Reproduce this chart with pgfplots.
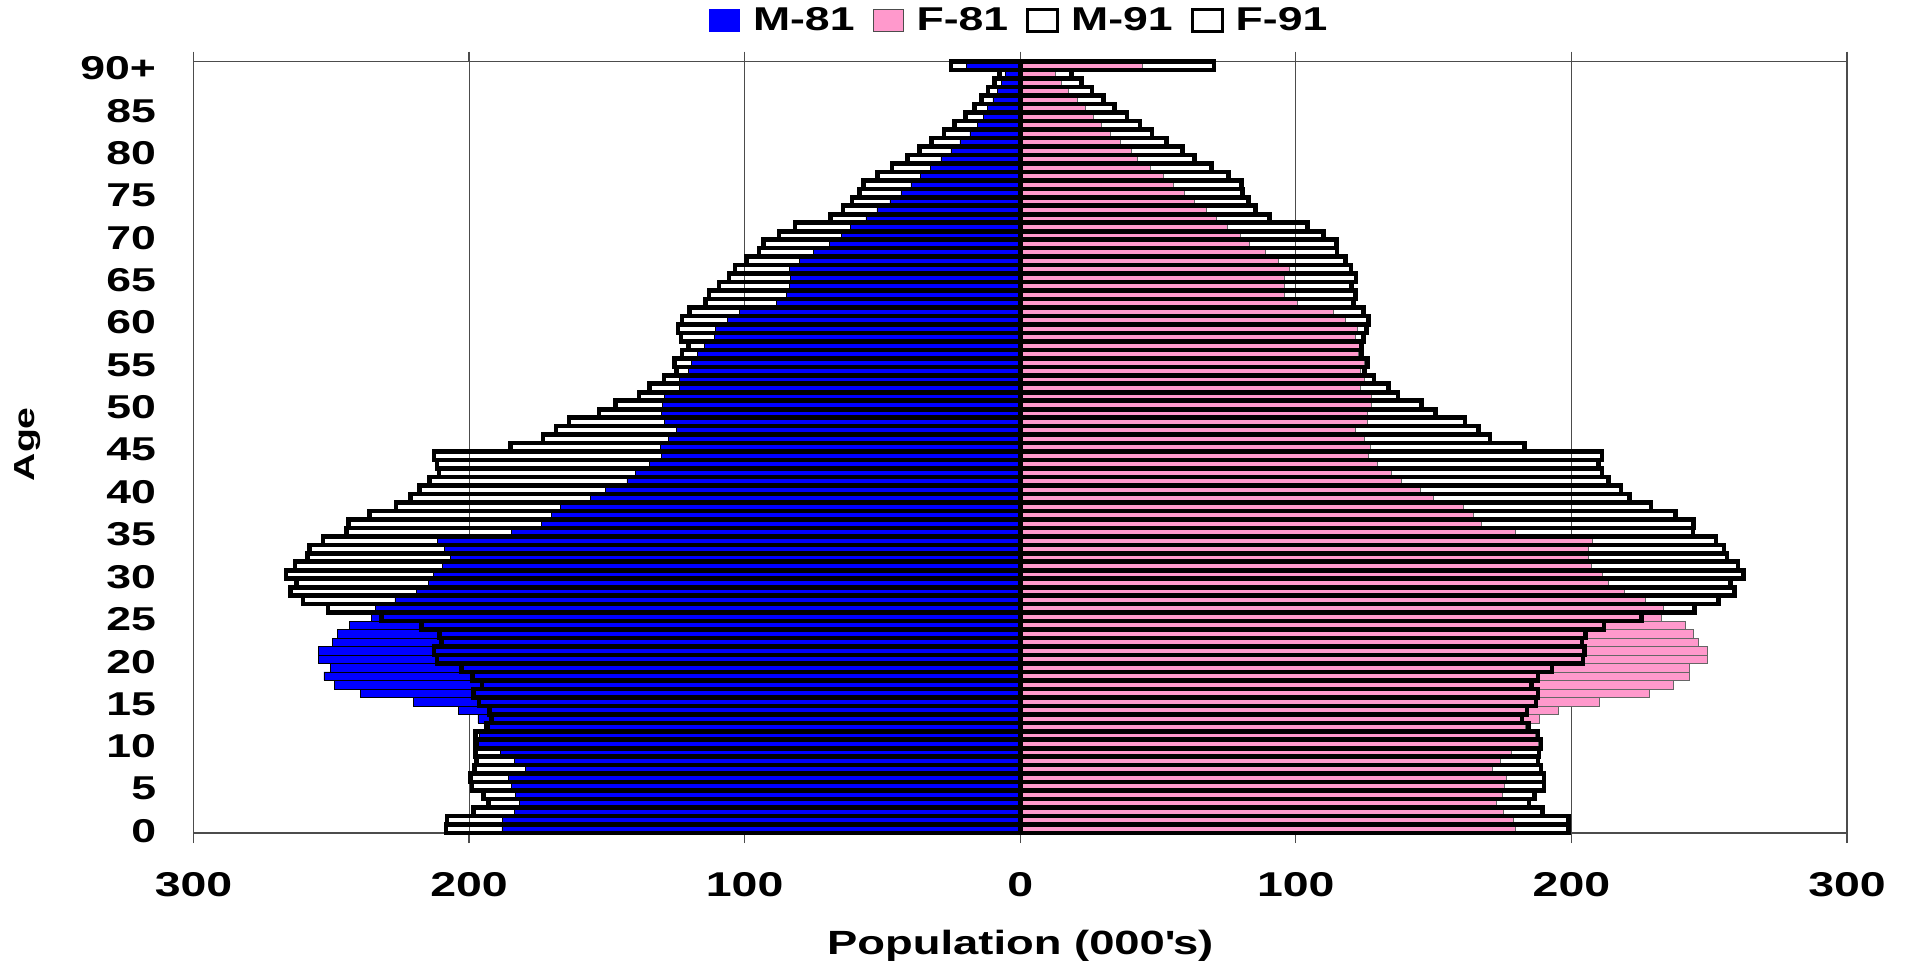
\documentclass[border=0pt]{standalone}
\usepackage{fontspec}
\setmainfont{Liberation Sans}[FakeStretch=1.35]
\usepackage{pgfplots}
\usepackage{pgfplotstable}
\pgfplotsset{compat=1.18}
\definecolor{mblue}{RGB}{0,0,255}
\definecolor{fpink}{HTML}{FF99CC}
\pgfplotstableread{
age m81 f81 m91 f91
0 188.1 179.8 208.4 198.9
1 188.0 179.0 208.0 198.9
2 183.5 175.1 198.4 189.6
3 181.7 172.9 192.9 184.6
4 183.2 175.0 194.7 186.6
5 184.7 175.7 198.9 190.1
6 185.7 176.4 199.5 190.1
7 179.7 171.3 198.1 188.9
8 183.5 174.1 197.2 187.8
9 188.6 178.2 197.7 188.3
10 196.7 188.1 197.7 189.0
11 196.4 187.0 197.6 187.8
12 192.6 183.3 193.7 184.4
13 196.8 188.2 191.8 182.1
14 203.9 195.1 192.6 183.9
15 220.2 210.0 196.4 187.2
16 239.3 228.4 198.4 187.8
17 249.0 237.1 195.3 185.6
18 252.7 242.9 198.7 187.8
19 250.2 242.9 202.8 193.0
20 254.7 249.2 211.6 204.2
21 254.7 249.2 212.8 204.8
22 249.5 246.2 209.9 203.9
23 247.8 244.4 210.8 205.0
24 243.5 241.4 217.2 211.8
25 235.3 232.6 231.7 225.4
26 233.9 233.3 251.2 244.7
27 226.9 226.7 260.3 253.4
28 219.0 219.3 264.7 259.1
29 214.8 213.4 262.6 257.8
30 213.0 211.1 266.5 262.5
31 209.6 207.1 263.2 260.5
32 206.9 206.0 258.6 256.5
33 209.1 206.2 257.9 255.3
34 211.5 207.6 253.0 252.5
35 184.7 179.8 244.4 244.1
36 173.7 167.3 243.8 244.4
37 170.2 164.3 236.2 237.7
38 166.9 160.7 226.5 228.9
39 155.9 149.8 221.2 221.1
40 150.5 145.2 218.0 218.0
41 142.7 138.2 214.4 213.5
42 139.6 134.8 210.9 211.1
43 134.5 129.7 211.6 209.8
44 130.3 126.3 212.8 211.1
45 130.5 127.0 185.0 183.0
46 127.6 124.8 173.2 170.5
47 124.8 121.7 168.4 166.3
48 129.2 125.9 163.8 161.4
49 130.1 126.1 152.9 150.6
50 129.9 127.4 146.9 145.6
51 129.1 127.4 138.4 137.0
52 123.8 123.3 134.5 133.6
53 123.6 124.8 129.3 128.3
54 120.3 123.4 124.8 124.9
55 119.4 124.9 125.4 125.9
56 117.1 122.8 122.7 123.9
57 114.5 123.0 120.3 123.9
58 111.0 121.4 123.1 124.5
59 110.6 122.3 124.2 125.7
60 106.2 118.1 122.7 126.3
61 101.9 113.5 120.1 124.6
62 88.5 100.4 114.3 120.9
63 85.0 95.9 112.9 121.6
64 83.9 95.9 109.3 120.1
65 83.4 95.9 105.7 121.8
66 83.8 97.5 103.5 120.0
67 80.2 93.6 99.3 118.1
68 75.0 88.9 94.8 115.0
69 69.2 83.0 93.2 114.8
70 65.0 79.8 87.6 110.0
71 61.5 75.3 81.8 104.3
72 56.0 71.2 68.8 90.5
73 52.0 67.5 64.3 85.3
74 47.3 63.1 61.0 82.9
75 43.3 59.5 58.3 80.7
76 39.7 55.5 56.8 80.3
77 36.2 51.8 51.7 75.5
78 32.5 47.1 46.5 69.3
79 28.8 42.4 40.9 63.2
80 25.2 40.3 36.5 58.9
81 21.9 36.4 32.2 53.1
82 18.3 32.5 27.6 47.8
83 15.5 29.3 23.9 43.5
84 13.4 26.5 19.8 38.8
85 11.8 23.6 16.7 34.3
86 9.9 20.7 14.0 30.3
87 8.3 17.5 11.7 26.1
88 6.8 14.9 9.4 22.2
89 5.5 12.6 7.5 18.7
90 19.6 44.2 25.2 70.3
}\pop
\begin{document}
\begin{tikzpicture}
\path[use as bounding box] (-96.75pt,-65.5pt) rectangle (857.25pt,416.5pt);
\begin{axis}[
  at={(0pt,0pt)}, anchor=south west,
  scale only axis, width=826.75pt, height=385.65pt,
  xmin=-300, xmax=300, ymin=-0.5, ymax=90.5,
  clip=false,
  xtick={-300,-200,-100,0,100,200,300},
  xticklabels={300,200,100,0,100,200,300},
  ytick={0,5,10,15,20,25,30,35,40,45,50,55,60,65,70,75,80,85,90},
  yticklabels={0,5,10,15,20,25,30,35,40,45,50,55,60,65,70,75,80,85,90+},
  xmajorgrids,
  grid style={black!70, line width=0.5pt},
  axis line style={black!70, line width=0.6pt},
  tick align=outside,
  major tick length=5pt,
  ytick style={draw=none},
  xtick style={black!70, line width=0.6pt},
  xticklabel style={font=\fontsize{17.2}{17.2}\selectfont\bfseries, anchor=north, yshift=-11pt},
  yticklabel style={font=\fontsize{16.5}{16.5}\selectfont\bfseries, anchor=east, xshift=-10.2pt, yshift=-1.2pt},
  xlabel={Population (000\textquotesingle s)},
  xlabel style={font=\fontsize{16.8}{16.8}\selectfont\bfseries, at={(axis description cs:0.5,-0.158)}, anchor=base},
  ylabel={Age},
  ylabel style={font=\fontsize{14.5}{14.5}\selectfont\bfseries, at={(axis description cs:-0.1001,0.504)}, anchor=center},
  legend columns=4,
  legend style={at={(axis description cs:0.5,1.0534)}, anchor=center, draw=none, fill=none,
    font=\fontsize{16.5}{16.5}\selectfont\bfseries,
    /tikz/every even column/.append style={column sep=7pt},
    inner xsep=0pt, inner ysep=0pt},
]
\addplot[xbar, bar width=1, bar shift=0pt, fill=mblue, draw=black, line width=0.3pt,
  legend image code/.code={\draw[fill=mblue, draw=mblue, line width=0.3pt] (0pt,-5.5pt) rectangle (15pt,5.5pt); \path[draw=none, fill=none] (0pt,0pt) -- (19.8pt,0pt);}]
  table[x expr=-\thisrow{m81}, y=age]{\pop};
\addlegendentry{M-81}
\addplot[xbar, bar width=1, bar shift=0pt, fill=fpink, draw=black!60, line width=0.3pt,
  legend image code/.code={\draw[fill=fpink, draw=black!70, line width=0.5pt] (0pt,-5.5pt) rectangle (15pt,5.5pt); \path[draw=none, fill=none] (0pt,0pt) -- (19.8pt,0pt);}]
  table[x=f81, y=age]{\pop};
\addlegendentry{F-81}
\addplot[xbar, bar width=1, bar shift=0pt, fill=none, draw=black, line width=2.3pt,
  legend image code/.code={\draw[fill=white, draw=black, line width=1.4pt] (0pt,-5.5pt) rectangle (15pt,5.5pt); \path[draw=none, fill=none] (0pt,0pt) -- (19.8pt,0pt);}]
  table[x expr=-\thisrow{m91}, y=age]{\pop};
\addlegendentry{M-91}
\addplot[xbar, bar width=1, bar shift=0pt, fill=none, draw=black, line width=2.3pt,
  legend image code/.code={\draw[fill=white, draw=black, line width=1.4pt] (0pt,-5.5pt) rectangle (15pt,5.5pt); \path[draw=none, fill=none] (0pt,0pt) -- (19.8pt,0pt);}]
  table[x=f91, y=age]{\pop};
\addlegendentry{F-91}
\end{axis}
\end{tikzpicture}
\end{document}
